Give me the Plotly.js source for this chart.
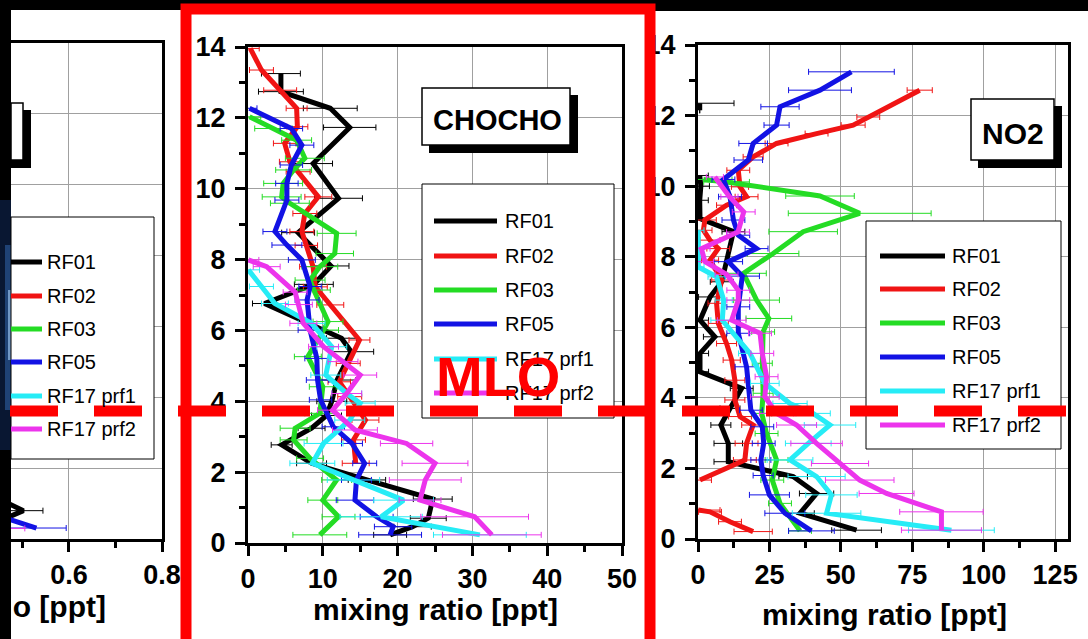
<!DOCTYPE html>
<html><head><meta charset="utf-8">
<script src="https://cdn.plot.ly/plotly-3.0.1.min.js"></script>
<style>html,body{margin:0;padding:0;background:#000;overflow:hidden}#chart{width:1088px;height:639px;}</style>
</head><body><div id="chart"></div>
<script>
// ---------- series meta ----------
const seriesNames = ['RF01', 'RF02', 'RF03', 'RF05', 'RF17 prf1', 'RF17 prf2'];
const seriesColors = ['#000000', '#f01414', '#24dc24', '#1212e4', '#26ecf6', '#ec34ec'];
const panelTitles = ['', 'CHOCHO', 'NO2'];
const axisTitle = 'mixing ratio [ppt]';
const highlightLabel = 'MLO';

// ---------- left panel (partially visible) ----------
const left_RF01_alt = [1.0, 0.8, 0.62];
const left_RF01_val = [0.47, 0.502, 0.47];
const left_RF01_err = [null, 0.042, null];
const left_RF05_alt = [0.56, 0.31];
const left_RF05_val = [0.47, 0.53];
const left_RF05_err = [null, 0.064];
const left_RF17b_alt = [0.30];
const left_RF17b_val = [0.45];
const left_RF17b_err = [0.055];

// ---------- CHOCHO ----------
const cho_RF01_alt = [13.25, 12.74, 12.27, 11.73, 10.71, 9.73, 8.76, 7.82, 7.30, 6.76, 5.78, 5.40, 4.60, 4.00, 3.60, 3.24, 2.77, 2.25, 1.78, 1.24, 0.70, 0.46, 0.23];
const cho_RF01_val = [4.4, 4.4, 11.0, 13.6, 8.7, 12.1, 6.7, 11.1, 8.8, 2.2, 12.5, 13.8, 11.9, 11.2, 10.5, 8.5, 4.5, 8.5, 15.9, 24.7, 24.1, 22.0, 19.0];
const cho_RF01_err = [2.6, 3.0, 3.6, 3.5, 2.6, 3.2, 2.2, 2.4, 2.6, 1.6, 2.0, 3.0, 2.5, 2.0, 2.0, 1.8, 1.4, 2.0, 2.5, 2.6, 2.4, 2.5, 2.2];

const cho_RF02_alt = [13.96, 13.35, 12.78, 12.27, 11.75, 11.28, 10.76, 10.48, 9.77, 9.30, 8.79, 8.40, 7.80, 7.23, 6.72, 5.73, 5.07, 4.55, 4.13, 3.47, 2.91, 2.25];
const cho_RF02_val = [0.3, 1.8, 4.3, 6.5, 6.6, 4.9, 5.6, 6.7, 9.4, 7.6, 7.2, 7.8, 8.7, 9.0, 11.0, 14.9, 13.4, 12.2, 13.6, 15.7, 14.1, 14.4];
const cho_RF02_err = [1.2, 1.6, 2.2, 1.4, 1.4, 1.5, 1.4, 1.6, 1.8, 1.6, 1.6, 1.5, 1.8, 1.6, 1.8, 1.4, 1.6, 1.5, 1.6, 1.8, 1.6, 1.8];

const cho_RF03_alt = [12.03, 11.70, 11.37, 10.86, 10.53, 10.15, 9.77, 9.59, 8.74, 8.17, 7.80, 7.42, 7.14, 6.25, 6.01, 5.26, 4.41, 3.66, 3.24, 2.91, 2.39, 1.78, 1.21, 0.74, 0.23];
const cho_RF03_val = [0.2, 3.4, 6.5, 7.6, 6.1, 4.7, 4.5, 5.6, 11.85, 11.6, 9.6, 8.3, 8.8, 10.7, 10.1, 8.0, 10.0, 9.6, 6.3, 6.1, 8.3, 11.85, 10.0, 12.1, 9.6];
const cho_RF03_err = [1.5, 2.5, 2.0, 2.6, 2.4, 2.6, 2.6, 2.6, 2.6, 2.5, 2.4, 2.0, 2.2, 2.0, 2.0, 1.8, 1.8, 2.0, 2.0, 1.8, 1.8, 2.0, 2.0, 2.2, 3.6];

const cho_RF05_alt = [12.27, 11.70, 11.23, 10.67, 10.15, 9.68, 8.79, 8.41, 7.99, 7.24, 6.86, 6.01, 5.21, 4.60, 4.04, 3.28, 2.81, 2.25, 1.78, 1.21, 0.74, 0.46, 0.23];
const cho_RF05_val = [0.2, 5.8, 7.2, 5.8, 5.2, 5.2, 3.6, 5.2, 7.2, 8.3, 7.9, 8.3, 9.2, 9.3, 9.7, 11.4, 13.9, 15.6, 14.5, 14.3, 17.2, 19.4, 19.0];
const cho_RF05_err = [1.0, 1.5, 1.6, 1.5, 1.5, 1.6, 1.6, 2.0, 1.8, 1.5, 1.6, 1.6, 1.6, 1.5, 1.5, 1.5, 1.4, 1.6, 2.0, 2.5, 2.2, 2.5, 4.2];

const cho_RF17a_alt = [7.71, 7.24, 6.76, 6.20, 5.54, 4.74, 4.22, 3.95, 3.47, 2.81, 2.25, 1.78, 1.21, 0.74, 0.23];
const cho_RF17a_val = [0.05, 1.8, 3.6, 8.5, 11.2, 10.4, 13.2, 15.0, 13.6, 10.1, 8.6, 14.1, 20.8, 17.8, 31.0];
const cho_RF17a_err = [1.5, 1.6, 1.8, 1.8, 2.0, 2.0, 2.0, 2.0, 2.0, 2.6, 3.0, 3.5, 4.0, 5.5, 6.2];

const cho_RF17b_alt = [7.99, 7.80, 7.08, 6.73, 6.20, 5.54, 5.12, 4.74, 4.22, 3.75, 3.19, 2.81, 2.25, 1.78, 1.21, 0.74, 0.23];
const cho_RF17b_val = [0.05, 2.5, 6.3, 6.8, 7.4, 10.1, 12.7, 15.0, 13.2, 11.3, 14.3, 21.2, 25.0, 23.7, 23.0, 30.3, 32.6];
const cho_RF17b_err = [1.4, 1.8, 1.6, 1.8, 1.8, 2.0, 2.0, 2.2, 2.0, 2.0, 3.0, 3.5, 4.4, 4.8, 2.8, 7.2, 6.6];

// ---------- NO2 ----------
const no2_RF01_alt = [12.35, 12.15, null, 10.30, 10.00, 9.60, 9.08, 8.71, 7.29, 6.86, 6.20, 5.73, 5.26, 4.74, 4.27, 3.70, 3.23, 2.71, 2.19, 1.77, 1.29, 0.73, 0.25];
const no2_RF01_val = [0.6, 0.6, null, 0.6, 1.0, 0.6, 0.7, 12.4, 8.3, 4.2, 0.7, 5.9, 0.7, 0.7, 15.3, 11.2, 8.0, 10.6, 10.6, 33.3, 41.5, 35.7, 55.5];
const no2_RF01_err = [12.0, null, null, 3, 3, 3, 3, 4, 4, 4, 3, 4, 3, 3, 4, 3.5, 3.5, 5, 5, 5, 6, 5, 8.7];

const no2_RF02_alt = [12.72, 11.96, 11.73, 11.49, 11.21, 10.83, 10.45, 9.98, 9.70, 9.46, 9.04, 8.75, 8.47, 8.23, 7.90, 7.34, 6.68, 6.11, 5.54, 5.07, 4.50, 3.94, 3.47, 3.23, 2.71, 2.24, 1.67, null, 0.82, 0.77, 0.49, 0.21];
const no2_RF02_val = [77.6, 59.6, 54.3, 41.5, 27.5, 19.3, 14.1, 14.7, 17.0, 10.0, 2.4, 1.9, 4.2, 7.1, 4.2, 8.3, 6.5, 7.1, 10.0, 11.8, 12.9, 12.9, 14.7, 19.3, 17.0, 16.4, 0.7, null, 0.1, 4.2, 11.2, 19.3];
const no2_RF02_err = [4.4, 4.0, 4.2, 4.0, 4.0, 3.5, 4.0, 3.0, 4.0, 3.5, 4.0, 3.0, 3.5, 4.0, 3.0, 3.5, 3.0, 3.5, 3.5, 3.0, 3.5, 3.5, 4.0, 4.0, 4.0, 4.0, 4.0, null, 7.6, 4.0, 4.0, 6.7];

const no2_RF03_alt = [10.19, 10.12, 9.72, 9.23, 8.71, 8.09, 7.53, 6.77, 6.25, 5.87, 4.98, 4.13, 3.56, 2.99, 2.24, 1.67, 1.01, 0.23];
const no2_RF03_val = [1.9, 10.0, 42.7, 56.6, 36.8, 26.3, 15.9, 20.5, 24.8, 22.8, 22.5, 22.8, 22.3, 24.0, 27.5, 26.0, 28.7, 35.7];
const no2_RF03_err = [10, 8, 12, 25, 12, 9, 8, 8, 8, 4, 3.5, 3.5, 3.5, 4, 4, 4, 4, 4];

const no2_RF05_alt = [13.24, 12.72, 12.25, 11.73, 11.21, 10.74, 10.19, 9.70, 9.04, 8.61, 8.23, 7.86, 7.45, 6.58, 5.83, 4.88, 3.65, 3.18, 2.71, 2.24, 1.80, 1.25, 0.73, 0.23];
const no2_RF05_val = [53.7, 42.7, 28.7, 27.5, 19.3, 17.6, 8.9, 11.2, 12.4, 14.1, 20.5, 10.6, 15.5, 14.1, 14.1, 17.0, 18.5, 22.5, 23.0, 22.0, 22.8, 25.0, 30.4, 39.7];
const no2_RF05_err = [15, 11, 6.7, 4.4, 5, 5, 4, 4, 4, 4, 4, 5, 6, 4, 4, 4, 4, 4, 4, 3.5, 3.5, 7, 7, 8];

const no2_RF17a_alt = [8.75, 8.00, 7.71, 7.43, 6.77, 6.20, 5.26, 4.41, 3.84, 3.56, 3.23, 2.71, 2.24, 1.77, 1.25, 0.73, 0.25];
const no2_RF17a_val = [0.1, 0.3, 0.1, 6.5, 9.0, 8.5, 18.2, 23.4, 32.2, 40.3, 46.2, 38.6, 32.2, 41.5, 46.7, 45.0, 88.7];
const no2_RF17a_err = [2, 2, 2, 3, 3, 4, 4, 5, 6, 6, 9, 8, 8, 10, 9, 12, 15];

const no2_RF17b_alt = [10.26, 9.70, 9.27, 8.70, 8.23, 7.86, 7.50, 7.05, 6.77, 6.20, 5.83, 5.26, 4.60, 4.03, 3.56, 3.23, 2.71, 2.14, 1.67, 1.29, 0.77, 0.25];
const no2_RF17b_val = [5.9, 11.0, 16.0, 14.0, 1.2, 2.4, 10.0, 14.1, 14.1, 11.8, 21.7, 22.5, 24.0, 23.4, 27.5, 34.5, 41.5, 49.7, 56.6, 66.0, 85.2, 85.2];
const no2_RF17b_err = [3, 3, 4, 4, 3, 3, 4, 4, 4, 5, 4, 4, 4, 5, 6, 7, 9, 10, 12, 9.6, 14.6, 14];

// ---------- layout helpers ----------
const W = 1088, H = 639;
const px = x => x / W;
const py = y => 1 - y / H;

const panels = [
  { xa: 'x',  ya: 'y',  xpx: [11, 162],  ypx: [43, 539], range: [0.4753, 0.8], dtick: 0.2, minor: 0.1,
    series: [
      [0, left_RF01_alt, left_RF01_val, left_RF01_err],
      [3, left_RF05_alt, left_RF05_val, left_RF05_err],
      [5, left_RF17b_alt, left_RF17b_val, left_RF17b_err]
    ] },
  { xa: 'x2', ya: 'y2', xpx: [248, 622], ypx: [47, 543], range: [0, 50], dtick: 10, minor: 5,
    series: [
      [0, cho_RF01_alt, cho_RF01_val, cho_RF01_err],
      [1, cho_RF02_alt, cho_RF02_val, cho_RF02_err],
      [2, cho_RF03_alt, cho_RF03_val, cho_RF03_err],
      [3, cho_RF05_alt, cho_RF05_val, cho_RF05_err],
      [4, cho_RF17a_alt, cho_RF17a_val, cho_RF17a_err],
      [5, cho_RF17b_alt, cho_RF17b_val, cho_RF17b_err]
    ] },
  { xa: 'x3', ya: 'y3', xpx: [698, 1068], ypx: [45, 539], range: [0, 129.5], dtick: 25, minor: 12.5,
    series: [
      [0, no2_RF01_alt, no2_RF01_val, no2_RF01_err],
      [1, no2_RF02_alt, no2_RF02_val, no2_RF02_err],
      [2, no2_RF03_alt, no2_RF03_val, no2_RF03_err],
      [3, no2_RF05_alt, no2_RF05_val, no2_RF05_err],
      [4, no2_RF17a_alt, no2_RF17a_val, no2_RF17a_err],
      [5, no2_RF17b_alt, no2_RF17b_val, no2_RF17b_err]
    ] }
];

const FAM = 'Liberation Sans, Arial, sans-serif';
const tickFont = { family: FAM, size: 27, color: '#000', weight: 'bold' };
const traces = [];
panels.forEach(p => {
  p.series.forEach(([si, alt, val, err]) => {
    traces.push({
      type: 'scatter', mode: 'lines', x: val, y: alt, xaxis: p.xa, yaxis: p.ya,
      name: seriesNames[si], showlegend: false, hoverinfo: 'skip',
      line: { color: seriesColors[si], width: 5 },
      error_x: { type: 'data', array: err, symmetric: true, color: seriesColors[si], thickness: 1, width: 3 }
    });
  });
});

const layout = {
  width: W, height: H, autosize: false,
  margin: { l: 0, r: 0, t: 0, b: 0, pad: 0 },
  paper_bgcolor: '#000', plot_bgcolor: '#fff',
  showlegend: false,
  shapes: [], annotations: []
};

panels.forEach((p, k) => {
  const xn = k === 0 ? 'xaxis' : 'xaxis' + (k + 1);
  const yn = k === 0 ? 'yaxis' : 'yaxis' + (k + 1);
  layout[xn] = {
    domain: [px(p.xpx[0]), px(p.xpx[1])], range: p.range, anchor: p.ya,
    showline: true, linewidth: 3, linecolor: '#000', mirror: true,
    ticks: 'outside', ticklen: 10, tickwidth: 3, tickcolor: '#000',
    tick0: 0, dtick: p.dtick, showgrid: true, gridcolor: '#a0a0a0', gridwidth: 1, zeroline: false,
    tickfont: tickFont, ticklabelstandoff: 0, fixedrange: true,
    minor: { dtick: p.minor, tick0: 0, ticks: 'outside', ticklen: 6, tickwidth: 3, tickcolor: '#000', showgrid: false }
  };
  const ya = {
    domain: [py(p.ypx[1]), py(p.ypx[0])], range: [0, 14], anchor: p.xa,
    showline: true, linewidth: 3, linecolor: '#000',
    tick0: 0, dtick: 2, showgrid: true, gridcolor: '#a0a0a0', gridwidth: 1, zeroline: false,
    tickfont: tickFont, fixedrange: true
  };
  if (k === 0) {
    Object.assign(ya, { side: 'right', ticks: '', showticklabels: false });
  } else {
    Object.assign(ya, {
      mirror: true, ticks: 'outside', ticklen: 10, tickwidth: 3, tickcolor: '#000', ticklabelstandoff: 4,
      minor: { dtick: 1, tick0: 0, ticks: 'outside', ticklen: 6, tickwidth: 3, tickcolor: '#000', showgrid: false }
    });
  }
  layout[yn] = ya;
});

const S = layout.shapes, A = layout.annotations;
function rect(x0, y0, x1, y1, fill, lineColor, lw, layer) {
  S.push({ type: 'rect', xref: 'paper', yref: 'paper', x0: px(x0), x1: px(x1), y0: py(y1), y1: py(y0),
    fillcolor: fill, line: { color: lineColor || 'rgba(0,0,0,0)', width: lw || 0 }, layer: layer || 'above' });
}
function hline(x0, x1, y, color, w, dash) {
  S.push({ type: 'line', xref: 'paper', yref: 'paper', x0: px(x0), x1: px(x1), y0: py(y), y1: py(y),
    line: { color: color, width: w, dash: dash || 'solid' }, layer: 'above' });
}
function text(t, x, y, size, opts) {
  A.push(Object.assign({ text: t, xref: 'paper', yref: 'paper', x: px(x), y: py(y), showarrow: false,
    xanchor: 'center', yanchor: 'middle',
    font: { family: FAM, size: size, color: '#000' } }, opts || {}));
}

// panel backgrounds
rect(11, 10, 182, 645, '#fff', null, 0, 'below');
rect(182, 5, 655, 645, '#fff', null, 0, 'below');
rect(655, 11, 1100, 645, '#fff', null, 0, 'below');
// faint glow at the far left edge
rect(0, 200, 11, 450, 'rgba(20,50,110,0.45)', null, 0, 'below');
rect(5, 245, 11, 410, 'rgba(60,120,200,0.45)', null, 0, 'below');
rect(8, 290, 11, 360, 'rgba(170,210,250,0.6)', null, 0, 'below');

// panel title boxes (shadow + box)
const titleBoxes = [
  { box: [4, 103, 23, 160], t: 0, c: [0, 0], s: 30 },
  { box: [422, 88, 570, 145], t: 1, c: [497, 120], s: 29 },
  { box: [971, 99, 1054, 160], t: 2, c: [1013, 133], s: 30 }
];
titleBoxes.forEach(b => {
  const [x0, y0, x1, y1] = b.box;
  rect(x0 + 7, y0 + 7, x1 + 8, y1 + 8, '#000', null, 0);
  rect(Math.max(x0, 11), y0, x1, y1, '#fff', '#000', 1.5);
  if (panelTitles[b.t]) text(panelTitles[b.t], b.c[0], b.c[1], b.s, { font: { family: FAM, size: b.s, color: '#000', weight: 'bold' } });
});

// legend boxes
const legends = [
  { box: [11, 217, 154, 459], rows: [262, 296, 329, 362, 396, 429], line: [11, 42], tx: 45 },
  { box: [422, 184, 614, 418], rows: [221, 256, 290, 324, 359, 393], line: [434, 497], tx: 503 },
  { box: [866, 221, 1061, 449], rows: [256, 289, 323, 357, 391, 425], line: [880, 945], tx: 950 }
];
legends.forEach(L => {
  const [x0, y0, x1, y1] = L.box;
  rect(x0, y0, x1, y1, '#fff', '#000', 1);
  seriesNames.forEach((n, i) => {
    hline(L.line[0], L.line[1], L.rows[i], seriesColors[i], 5);
    text(n, L.tx, L.rows[i], 20, { xanchor: 'left' });
  });
});

// axis titles
const titleFont = { family: FAM, size: 30, color: '#000', weight: 'bold' };
text(axisTitle, 108, 606, 30, { xanchor: 'right', font: titleFont });
text(axisTitle, 435, 609, 30, { font: titleFont });
text(axisTitle, 884, 614, 30, { font: titleFont });

// red highlight frame and dashed level line
S.push({ type: 'rect', xref: 'paper', yref: 'paper', x0: px(186), x1: px(650), y0: py(660), y1: py(9),
  line: { color: '#ff0000', width: 11 }, fillcolor: 'rgba(0,0,0,0)', layer: 'above' });
hline(10, 1100, 411, '#ff0000', 11, '48px,36px');
text(highlightLabel, 498, 376, 56, { font: { family: FAM, size: 56, color: '#ff0000', weight: 'bold' } });

Plotly.newPlot('chart', traces, layout, { staticPlot: true, displayModeBar: false });
</script></body></html>
